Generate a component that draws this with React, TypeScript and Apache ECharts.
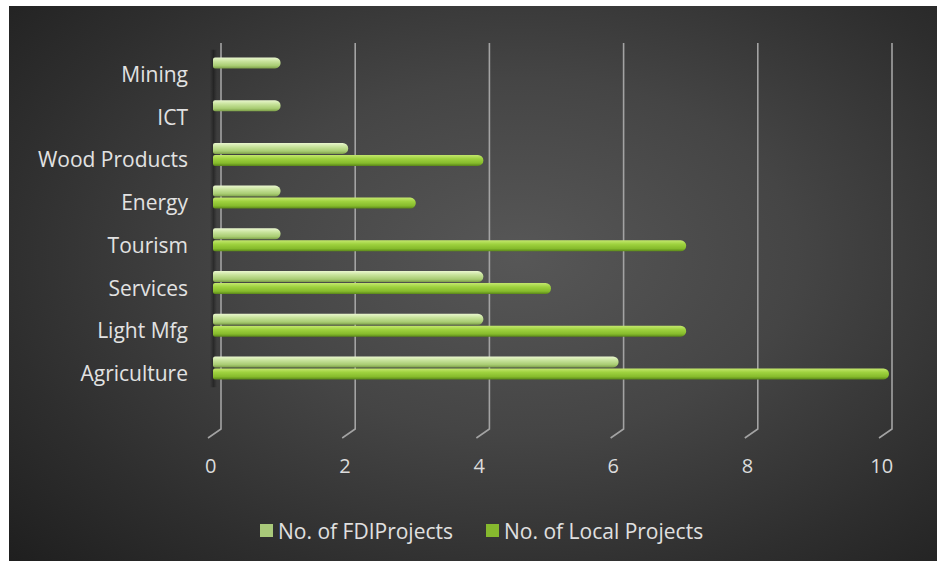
import React, { useEffect, useRef } from "react";
import * as echarts from "echarts";

const categories = ["Agriculture", "Light Mfg", "Services", "Tourism", "Energy", "Wood Products", "ICT", "Mining"];
const fdiProjects = [6, 4, 4, 1, 1, 2, 1, 1];
const localProjects = [10, 7, 5, 7, 3, 4, 0, 0];
const tickValues = [0, 2, 4, 6, 8, 10];
const seriesNames = ["No. of FDIProjects", "No. of Local Projects"];

const FONT = "'Open Sans', 'DejaVu Sans', sans-serif";

const fdiGradient = new echarts.graphic.LinearGradient(0, 0, 0, 1, [
  { offset: 0, color: "#eaf7cf" },
  { offset: 0.35, color: "#c8e39c" },
  { offset: 0.75, color: "#a8cc72" },
  { offset: 1, color: "#7d9f48" },
]);
const localGradient = new echarts.graphic.LinearGradient(0, 0, 0, 1, [
  { offset: 0, color: "#c4e86e" },
  { offset: 0.35, color: "#9fd23f" },
  { offset: 0.75, color: "#86bb2c" },
  { offset: 1, color: "#5a8619" },
]);

export default function App() {
  const ref = useRef<HTMLDivElement>(null);
  useEffect(() => {
    if (!ref.current) return;
    const chart = echarts.init(ref.current, undefined, { renderer: "svg" });
    const hiddenX = {
      type: "value" as const,
      min: 0,
      max: 10,
      interval: 2,
      axisLine: { show: false },
      axisTick: { show: false },
      axisLabel: { show: false },
      splitLine: { show: false },
    };
    chart.setOption({
      animation: false,
      backgroundColor: "transparent",
      textStyle: { fontFamily: FONT },
      grid: [
        { left: 204, width: 676, top: 41.6, height: 341.7 },
        { left: 212, width: 671, top: 37, height: 386 },
        { left: 201.7, width: 671, top: 37, height: 386 },
      ],
      xAxis: [
        { ...hiddenX, gridIndex: 0 },
        { ...hiddenX, gridIndex: 1 },
        {
          ...hiddenX,
          gridIndex: 2,
          axisLabel: { show: true, color: "#dcdcdc", fontSize: 20, fontFamily: FONT, margin: 26 },
        },
      ],
      yAxis: [
        {
          gridIndex: 0,
          type: "category",
          data: categories,
          axisLine: { show: false },
          axisTick: { show: false },
          splitLine: { show: false },
          axisLabel: {
            margin: 25,
            formatter: "{a|{value}}",
            rich: {
              a: { color: "#e2e2e2", fontSize: 21, fontFamily: FONT, padding: [10, 0, 0, 0] },
            },
          },
        },
        { gridIndex: 1, type: "value", min: 0, max: 1, show: false },
        { gridIndex: 2, type: "value", min: 0, max: 1, show: false },
      ],
      legend: {
        data: [
          { name: seriesNames[0], itemStyle: { color: "#a9c97a" } },
          { name: seriesNames[1], itemStyle: { color: "#86b92e" } },
        ],
        left: 246,
        top: 509,
        itemWidth: 13,
        itemHeight: 13,
        itemGap: 33,
        icon: "rect",
        textStyle: { color: "#e0e0e0", fontSize: 21, fontFamily: FONT },
      },
      series: [
        {
          type: "custom",
          xAxisIndex: 1,
          yAxisIndex: 1,
          silent: true,
          z: 1,
          data: tickValues.map((t) => [t]),
          encode: { x: 0 },
          renderItem: (params: any, api: any) => {
            const v = api.value(0);
            const top = api.coord([v, 1]);
            const bot = api.coord([v, 0]);
            return {
              type: "polyline",
              shape: { points: [top, bot, [bot[0] - 13, bot[1] + 9]] },
              style: { stroke: "#a3a3a3", lineWidth: 1.6, fill: "none" },
            };
          },
        },
        {
          type: "custom",
          xAxisIndex: 0,
          yAxisIndex: 0,
          silent: true,
          z: 2,
          data: [[0, categories[categories.length - 1]], [0, categories[0]]],
          encode: { x: 0, y: 1 },
          renderItem: (params: any, api: any) => {
            if (params.dataIndex !== 0) return null;
            const a = api.coord([0, categories[categories.length - 1]]);
            const b = api.coord([0, categories[0]]);
            const band = api.size([0, 1])[1];
            return {
              type: "rect",
              shape: { x: a[0] - 3, y: a[1] - band * 0.45, width: 7, height: b[1] - a[1] + band * 0.9 },
              style: {
                fill: new echarts.graphic.LinearGradient(0, 0, 1, 0, [
                  { offset: 0, color: "rgba(0,0,0,0)" },
                  { offset: 0.5, color: "rgba(0,0,0,0.35)" },
                  { offset: 1, color: "rgba(0,0,0,0)" },
                ]),
              },
            };
          },
        },
        {
          name: seriesNames[0],
          type: "bar",
          xAxisIndex: 0,
          yAxisIndex: 0,
          data: fdiProjects,
          barWidth: 11,
          barGap: "9%",
          z: 3,
          itemStyle: { color: fdiGradient, borderRadius: [2, 5.5, 5.5, 2] },
        },
        {
          name: seriesNames[1],
          type: "bar",
          xAxisIndex: 0,
          yAxisIndex: 0,
          data: localProjects,
          barWidth: 11,
          barGap: "9%",
          z: 3,
          itemStyle: { color: localGradient, borderRadius: [2, 5.5, 5.5, 2] },
        },
      ],
    });
    return () => chart.dispose();
  }, []);

  return (
    <div style={{ position: "absolute", left: 0, top: 0, width: 937, height: 561, background: "#ffffff", overflow: "hidden" }}>
      <div
        style={{
          position: "absolute",
          left: 9,
          top: 6,
          width: 928,
          height: 555,
          background: "radial-gradient(ellipse 75% 80% at 55% 45%, #575757 0%, #454545 40%, #2e2e2e 75%, #1f1f1f 100%)",
        }}
      >
        <div ref={ref} style={{ width: 928, height: 555 }} />
      </div>
    </div>
  );
}
